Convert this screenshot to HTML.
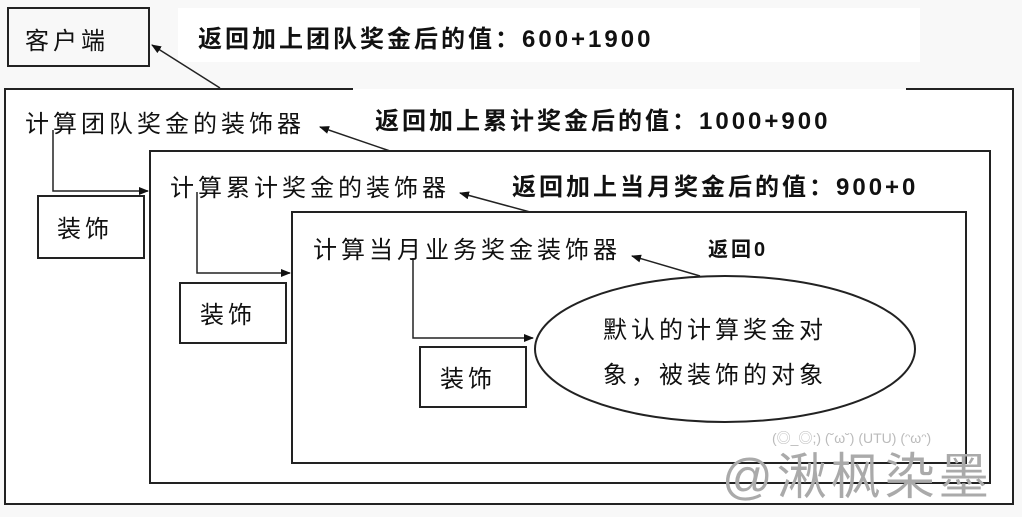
<!DOCTYPE html>
<html><head><meta charset="utf-8"><style>
body{margin:0;width:1022px;height:517px;background:#f8f8f8;overflow:hidden}
svg{display:block}
text{font-family:"Liberation Sans","Noto Sans CJK SC",sans-serif;fill:#111}
.b{font-weight:bold}
.n{font-size:24px;letter-spacing:4px}
.l{font-size:24px;letter-spacing:3px;font-weight:bold}
</style></head><body>
<svg width="1022" height="517" viewBox="0 0 1022 517">
<defs><marker id="a" markerWidth="10" markerHeight="8" refX="9" refY="4" orient="auto" markerUnits="userSpaceOnUse"><path d="M0,0L10,4L0,8z" fill="#111"/></marker></defs>
<rect x="178" y="8" width="742" height="54" fill="#fff"/>
<rect x="5" y="89" width="1008" height="415" fill="#fff"/>
<g fill="none" stroke="#222" stroke-width="2">
<path d="M353,89H5V504H1013V89H906"/>
<rect x="150" y="151" width="840" height="332"/>
<rect x="292" y="212" width="674" height="251"/>
<rect x="8" y="8" width="141" height="58"/>
<rect x="38" y="196" width="106" height="62"/>
<rect x="180" y="283" width="106" height="60"/>
<rect x="420" y="347" width="106" height="60"/>
<ellipse cx="725" cy="349" rx="190" ry="73"/>
</g>
<g fill="none" stroke="#222" stroke-width="1.5" marker-end="url(#a)">
<path d="M53,130V191H148"/>
<path d="M197,192V273H290"/>
<path d="M413,258V338H533"/>
<path d="M220,88L152,45"/>
<path d="M390,151L320,127"/>
<path d="M530,212L460,193"/>
<path d="M700,276L632,256"/>
</g>
<text x="25" y="49" class="n">客户端</text>
<text x="198" y="47" class="l">返回加上团队奖金后的值：600+1900</text>
<text x="25" y="132" class="n">计算团队奖金的装饰器</text>
<text x="375" y="129" class="l">返回加上累计奖金后的值：1000+900</text>
<text x="170" y="196" class="n">计算累计奖金的装饰器</text>
<text x="512" y="195" class="l">返回加上当月奖金后的值：900+0</text>
<text x="313" y="258" class="n">计算当月业务奖金装饰器</text>
<text x="708" y="256" font-size="20" letter-spacing="3" class="b">返回0</text>
<text x="57" y="237" class="n">装饰</text>
<text x="200" y="323" class="n">装饰</text>
<text x="440" y="387" class="n">装饰</text>
<text x="603" y="338" class="n">默认的计算奖金对</text>
<text x="603" y="383" class="n">象，被装饰的对象</text>
<text x="772" y="443" font-size="14" style="fill:#bbb">(◎_◎;) (˘ω˘) (UTU) (ᵔωᵔ)</text>
<text x="722" y="494" font-size="50" letter-spacing="4" style="fill:#aaa">@湫枫染墨</text>
</svg>
</body></html>
